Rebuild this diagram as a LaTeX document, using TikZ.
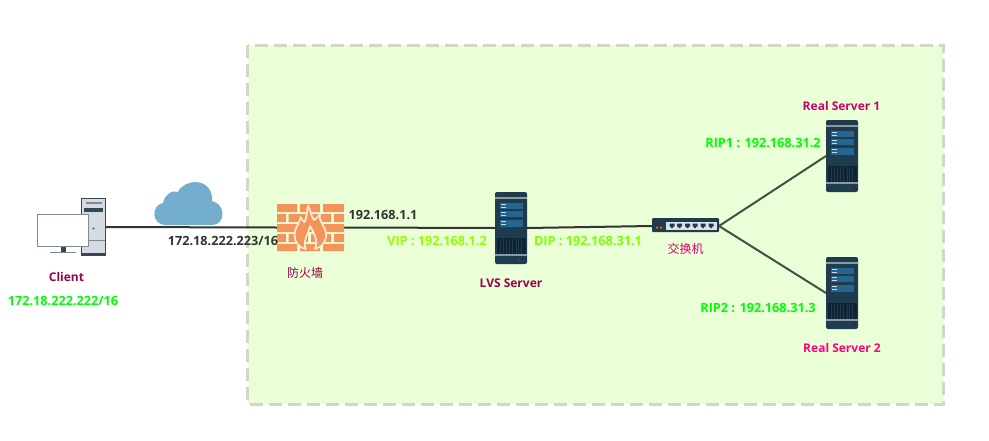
\documentclass[tikz,border=0pt]{standalone}
\usepackage{fontspec}
\setmainfont{Open Sans}
\newfontfamily\cjkfont{Noto Sans CJK SC}
\definecolor{zonefill}{HTML}{EAFFD7}
\definecolor{zoneline}{HTML}{CFDAC6}
\definecolor{srvbody}{HTML}{1E3C4E}
\definecolor{srvstripe}{HTML}{8A9AA3}
\definecolor{srvpanel}{HTML}{24668F}
\definecolor{srvgrille}{HTML}{0F2433}
\definecolor{wallorange}{HTML}{F4935A}
\definecolor{wallcream}{HTML}{FDEBD8}
\definecolor{cloudblue}{HTML}{74AECF}
\definecolor{linkdark}{HTML}{333333}
\definecolor{linkright}{HTML}{464F46}
\definecolor{labwine}{HTML}{99004D}
\definecolor{labcrimson}{HTML}{CC0066}
\definecolor{labpink}{HTML}{FF0080}
\definecolor{labgreen}{HTML}{00FF00}
\definecolor{labyellow}{HTML}{80FF00}
\definecolor{labgrey}{HTML}{333333}
\definecolor{towergrey}{HTML}{D5DBE0}
\definecolor{towerdark}{HTML}{33495A}
\definecolor{monframe}{HTML}{7D8A94}
\tikzset{
  lab/.style={font=\fontsize{12}{14}\selectfont\bfseries,inner sep=0pt},
  iplab/.style={font=\fontsize{12.7}{14}\selectfont\bfseries,inner sep=0pt},
  cjklab/.style={font=\fontsize{12}{14}\selectfont\cjkfont,inner sep=0pt},
  iconbox/.style={draw=none,fill=none,inner sep=0pt,outer sep=0pt,rectangle},
  link/.style={draw=linkdark,line width=2pt},
  linkr/.style={draw=linkright,line width=2pt},
  serverart/.pic={
    \fill[srvbody,rounded corners=2pt] (0,0) rectangle (32,72);
    \fill[srvstripe] (0,5) rectangle (32,7);
    \fill[srvpanel] (4.5,10.5) rectangle (28,17);
    \fill[srvpanel] (4.5,18.5) rectangle (28,25);
    \fill[srvpanel] (4.5,28) rectangle (28,34.5);
    \foreach \yy in {11.5,14.5,19.5,22.5,29,32}{\fill[white!75!srvpanel] (5.5,\yy) rectangle (10.5,\yy+1.2);}
    \fill[srvgrille] (1.5,46) rectangle (30.5,62);
    \foreach \xx in {5,8,11,14.5,17,21,23,26}{\draw[srvbody,line width=.5pt] (\xx,47) -- (\xx,62);}
    \fill[srvstripe] (0,62) rectangle (32,64);
    \fill[teal!80!black] (23.7,67.3) circle (1.2pt);
    \fill[red!60!black] (28,67.3) circle (1.2pt);
  }
}
\begin{document}
\begin{tikzpicture}[x=1pt,y=-1pt]
\useasboundingbox (0,0) rectangle (989,440);
\fill[white] (0,0) rectangle (989,440);
% zone
\draw[fill=zonefill,draw=zoneline,line width=3pt,dash pattern=on 13pt off 6pt] (247.5,45) rectangle (943.5,404);

% icon anchors
\node[iconbox,minimum width=69pt,minimum height=58pt] (client) at (71.5,227) {};
\node[iconbox,minimum width=67pt,minimum height=47pt] (firewall) at (310.5,227.5) {};
\node[iconbox,minimum width=32pt,minimum height=72pt] (lvs) at (511,228) {};
\node[iconbox,minimum width=67pt,minimum height=14pt] (switch) at (685.5,226) {};
\node[iconbox,minimum width=32pt,minimum height=72pt] (rs1) at (842,156) {};
\node[iconbox,minimum width=32pt,minimum height=72pt] (rs2) at (842,293) {};

% connectors
\draw[link] (client.east) -- (firewall.west);
\draw[link] (firewall.east) -- (lvs.west);
\draw[link] (lvs.east) -- (switch.west);
\draw[linkr] (switch.east) -- (rs1.west);
\draw[linkr] (switch.east) -- (rs2.west);

% client art
\fill[towerdark] (81,198) rectangle (106,256);
\fill[towergrey] (82,199) rectangle (105,253);
\fill[monframe] (86,202) rectangle (102,203.5);
\fill[towerdark] (84,208) rectangle (103,211.5);
\fill[monframe] (89,240) rectangle (105,240.7);
\fill[blue!60!cyan] (93.5,228.5) circle (1.2pt);
\fill[white] (37,214) rectangle (89,247);
\draw[monframe,line width=1.3pt] (37.6,214.6) rectangle (88.4,246.4);
\fill[towerdark] (60.5,247) rectangle (66,252);
\fill[monframe] (50,251.5) rectangle (76,253.2);

% cloud
\fill[cloudblue] (166,225) .. controls (151,225) and (151,205) .. (163,203)
  .. controls (164,196) and (172,189) .. (178,192)
  .. controls (181,185) and (190,182) .. (195,182)
  .. controls (206,182) and (213,190) .. (212,201)
  .. controls (226,204) and (226,225) .. (212,225) -- cycle;

% firewall art
\fill[wallorange] (277,204) rectangle (297,212) (300,204) rectangle (320,212) (323,204) rectangle (344,212);
\fill[wallorange] (277,214) rectangle (286,222) (288.5,214) rectangle (308,222) (311,214) rectangle (331,222) (334,214) rectangle (344,222);
\fill[wallorange] (277,224) rectangle (297,232) (300,224) rectangle (320,232) (323,224) rectangle (344,232);
\fill[wallorange] (277,234) rectangle (286,242) (288.5,234) rectangle (308,242) (311,234) rectangle (331,242) (334,234) rectangle (344,242);
\fill[wallorange] (277,244) rectangle (297,251) (300,244) rectangle (320,251) (323,244) rectangle (344,251);
\draw[wallcream,line width=1.7pt,fill=wallorange,line join=round]
  (308,205.5) .. controls (311,212) and (311,216) .. (314,220)
  .. controls (316,219) and (318,217) .. (320,214)
  .. controls (318,222) and (326,226) .. (326,235)
  .. controls (326,243) and (321,247) .. (315,249)
  .. controls (318,243) and (316,236) .. (310,226)
  .. controls (308,235) and (302,242) .. (306,249)
  .. controls (299,248) and (294.5,242) .. (294.5,235)
  .. controls (294.5,228) and (299,225) .. (300.5,217)
  .. controls (302,220) and (303,221) .. (304.5,222)
  .. controls (307,217) and (307,211) .. (308,205.5) -- cycle;

% switch art
\fill[srvbody,rounded corners=1pt] (652,218) rectangle (719,232);
\fill[white!85!srvbody] (666,221.5) rectangle (717,230);
\foreach \xx in {672,679.5,687.5,695,703,711}{
  \fill[srvbody] (\xx-2.5,223.5) rectangle (\xx+2.5,226.5) (\xx-1.2,226.5) rectangle (\xx+1.2,228);
}
\fill[orange!70!red] (656,226.5) rectangle (658,228.5) (660,226.5) rectangle (662,228.5);

% servers
\pic at (495,192) {serverart};
\pic at (826,120) {serverart};
\pic at (826,257) {serverart};

% labels
\node[lab,text=labwine] (tclient) at (66.5,276.5) {Client};
\node[iplab,text=labgreen] (tcip) at (63,300.5) {172.18.222.222/16};
\node[iplab,text=labgrey] (tfw1) at (223,240.5) {172.18.222.223/16};
\node[cjklab,text=labwine] (tfw) at (305,272.5) {防火墙};
\node[iplab,text=labgrey] (tfw2) at (383,215) {192.168.1.1};
\node[iplab,text=labyellow!85!yellow] (tvip) at (437,240.5) {VIP : 192.168.1.2};
\node[iplab,text=labyellow] (tdip) at (588,240.5) {DIP : 192.168.31.1};
\node[cjklab,text=labcrimson!70!labpink] (tsw) at (685.5,248.5) {交换机};
\node[lab,text=labwine] (tlvs) at (511,283.5) {LVS Server};
\node[lab,text=labcrimson] (trs1) at (841.5,105.5) {Real Server 1};
\node[iplab,text=labgreen] (trip1) at (763,142.5) {RIP1 : 192.168.31.2};
\node[iplab,text=labgreen] (trip2) at (758,307.5) {RIP2 : 192.168.31.3};
\node[lab,text=labpink] (trs2) at (842,347.5) {Real Server 2};
\end{tikzpicture}
\end{document}
